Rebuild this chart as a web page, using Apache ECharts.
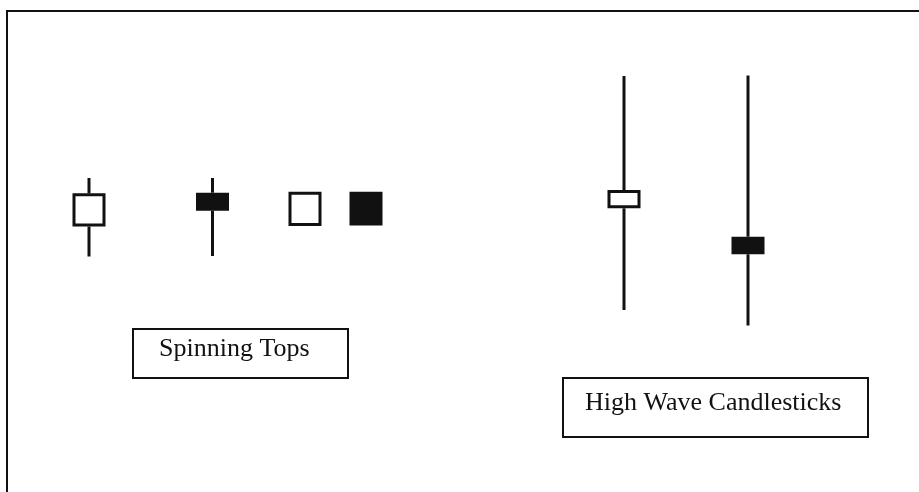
<!DOCTYPE html>
<html>
<head>
<meta charset="utf-8">
<script src="https://cdn.jsdelivr.net/npm/echarts@6/dist/echarts.min.js"></script>
<style>
html,body{margin:0;padding:0;background:#fff;}
#chart{width:919px;height:492px;}
</style>
</head>
<body>
<div id="chart"></div>
<script>
// Candle positions (x units) and prices [open, close, low, high]
const positions = [8.9, 21.25, 30.5, 36.6, 62.4, 74.8];
const opens  = [26.55, 29.93, 26.6, 30.03, 28.37, 25.53];
const closes = [29.87, 28.13, 30.03, 26.65, 30.2, 23.77];
const lows   = [23.55, 23.6, 26.6, 26.65, 18.2, 16.65];
const highs  = [31.4, 31.4, 30.03, 30.03, 41.6, 41.65];
const labels = ['Spinning Tops', 'High Wave Candlesticks'];

const bodyWidth = 3.3;
const data = positions.map((x, i) => [x, opens[i], closes[i], lows[i], highs[i]]);

const chart = echarts.init(document.getElementById('chart'), null, {renderer: 'canvas'});
const ink = '#111';

chart.setOption({
  backgroundColor: '#fff',
  animation: false,
  grid: {left: 0, right: 0, top: 0, bottom: 0},
  xAxis: {type: 'value', min: 0, max: 91.9, show: false},
  yAxis: {type: 'value', min: 0, max: 49.2, show: false},
  series: [{
    type: 'custom',
    data: data,
    renderItem: function (params, api) {
      const x = api.value(0), o = api.value(1), c = api.value(2), lo = api.value(3), hi = api.value(4);
      const top = Math.max(o, c), bot = Math.min(o, c);
      const pTop = api.coord([x, top]);
      const pBot = api.coord([x, bot]);
      const pHi = api.coord([x, hi]);
      const pLo = api.coord([x, lo]);
      const w = api.size([bodyWidth, 0])[0];
      const hollow = c > o;
      const lw = 3;
      const children = [];
      if (hi > top) {
        children.push({type: 'line', shape: {x1: pHi[0], y1: pHi[1], x2: pTop[0], y2: pTop[1]}, style: {stroke: ink, lineWidth: lw}});
      }
      if (lo < bot) {
        children.push({type: 'line', shape: {x1: pBot[0], y1: pBot[1], x2: pLo[0], y2: pLo[1]}, style: {stroke: ink, lineWidth: lw}});
      }
      children.push({
        type: 'rect',
        shape: {x: pTop[0] - w / 2 + lw / 2, y: pTop[1] + lw / 2, width: w - lw, height: pBot[1] - pTop[1] - lw},
        style: {fill: hollow ? '#fff' : ink, stroke: ink, lineWidth: lw}
      });
      return {type: 'group', children: children};
    }
  }],
  graphic: [
    {type: 'polyline', shape: {points: [[7, 492], [7, 11], [919, 11]]}, style: {stroke: ink, lineWidth: 2, fill: null}},
    {type: 'rect', shape: {x: 133, y: 329, width: 215, height: 49}, style: {fill: '#fff', stroke: ink, lineWidth: 2}},
    {type: 'text', x: 159, y: 349, style: {text: labels[0], font: '26px "Liberation Serif"', fill: ink, verticalAlign: 'middle', align: 'left'}},
    {type: 'rect', shape: {x: 563, y: 378, width: 305, height: 59}, style: {fill: '#fff', stroke: ink, lineWidth: 2}},
    {type: 'text', x: 585, y: 403, style: {text: labels[1], font: '26px "Liberation Serif"', fill: ink, verticalAlign: 'middle', align: 'left'}}
  ]
});
</script>
</body>
</html>
